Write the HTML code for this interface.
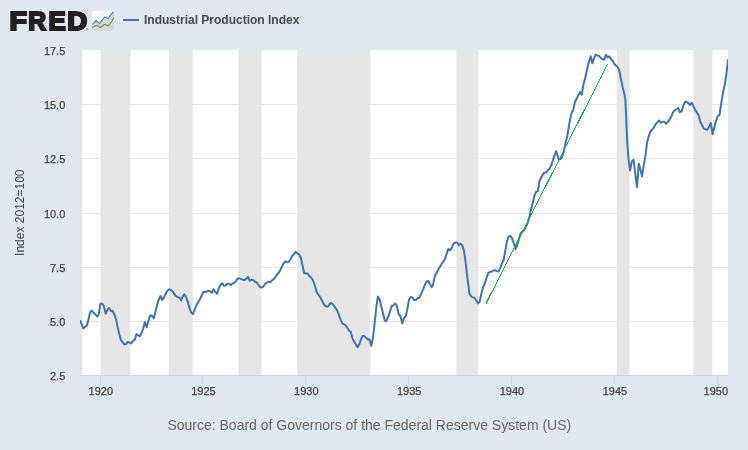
<!DOCTYPE html>
<html><head><meta charset="utf-8"><title>Industrial Production Index</title>
<style>
html,body{margin:0;padding:0;background:#e1e9f0;}
svg{display:block}
text{font-family:"Liberation Sans",Arial,Helvetica,sans-serif}
</style></head><body>
<svg width="748" height="450" viewBox="0 0 748 450">
<defs>
<linearGradient id="ig" x1="0" y1="0" x2="0.8" y2="1"><stop offset="0" stop-color="#ffffff"/><stop offset="0.25" stop-color="#f8f8f8"/><stop offset="0.7" stop-color="#e6e6e6"/><stop offset="1" stop-color="#dddddd"/></linearGradient>
<clipPath id="ic"><rect x="92.1" y="10.8" width="21.9" height="19.9" rx="2.2"/></clipPath>
<clipPath id="pc"><rect x="80" y="50" width="648" height="325"/></clipPath>
</defs>
<rect x="0" y="0" width="748" height="450" fill="#e1e9f0"/>
<rect x="80" y="50" width="648" height="325" fill="#ffffff"/>
<!-- recession bars -->
<g fill="#e6e6e6">
<rect x="80.0" y="50" width="2.4" height="325"/>
<rect x="100.4" y="50" width="30.1" height="325"/>
<rect x="168.6" y="50" width="24.1" height="325"/>
<rect x="238.4" y="50" width="23.1" height="325"/>
<rect x="297.2" y="50" width="73.0" height="325"/>
<rect x="456.3" y="50" width="22.2" height="325"/>
<rect x="616.6" y="50" width="12.9" height="325"/>
<rect x="693.3" y="50" width="19.1" height="325"/>
</g>
<!-- grid -->
<g stroke="#e6e6e6" stroke-width="1" shape-rendering="crispEdges">
<line x1="80" x2="728" y1="49.5" y2="49.5"/>
<line x1="80" x2="728" y1="104.5" y2="104.5"/>
<line x1="80" x2="728" y1="158.5" y2="158.5"/>
<line x1="80" x2="728" y1="213.5" y2="213.5"/>
<line x1="80" x2="728" y1="267.5" y2="267.5"/>
<line x1="80" x2="728" y1="321.5" y2="321.5"/>
</g>
<!-- axis -->
<g stroke="#ccd6eb" stroke-width="1" shape-rendering="crispEdges">
<line x1="80" x2="728" y1="375.5" y2="375.5"/>
<line x1="100.5" x2="100.5" y1="375" y2="385"/>
<line x1="202.5" x2="202.5" y1="375" y2="385"/>
<line x1="305.5" x2="305.5" y1="375" y2="385"/>
<line x1="408.5" x2="408.5" y1="375" y2="385"/>
<line x1="511.5" x2="511.5" y1="375" y2="385"/>
<line x1="614.5" x2="614.5" y1="375" y2="385"/>
<line x1="717.5" x2="717.5" y1="375" y2="385"/>
</g>
<g font-size="11" fill="#444444" stroke="#444444" stroke-width="0.25" text-anchor="end">
<text x="65.3" y="55">17.5</text>
<text x="65.3" y="109.2">15.0</text>
<text x="65.3" y="163.3">12.5</text>
<text x="65.3" y="217.7">10.0</text>
<text x="65.3" y="271.7">7.5</text>
<text x="65.3" y="325.8">5.0</text>
<text x="65.3" y="380">2.5</text>
</g>
<g font-size="11" fill="#444444" stroke="#444444" stroke-width="0.25" text-anchor="middle">
<text x="100.8" y="395">1920</text>
<text x="203.5" y="395">1925</text>
<text x="306.3" y="395">1930</text>
<text x="409.2" y="395">1935</text>
<text x="512" y="395">1940</text>
<text x="614.9" y="395">1945</text>
<text x="715.8" y="395">1950</text>
</g>
<text x="0" y="0" font-size="12" fill="#444444" text-anchor="middle" transform="translate(24.3,212.7) rotate(-90)">Index 2012=100</text>
<text x="369.3" y="430" font-size="14" fill="#666666" text-anchor="middle">Source: Board of Governors of the Federal Reserve System (US)</text>
<!-- header -->
<g aria-label="FRED" font-size="24.5" font-weight="bold" fill="#231f20" stroke="#231f20" stroke-width="2.0" stroke-linejoin="miter">
<text transform="translate(9.50,29.76) scale(1.166,1.045)">F</text>
<text transform="translate(28.19,29.75) scale(1.011,1.051)">R</text>
<text transform="translate(48.47,29.76) scale(1.057,1.045)">E</text>
<text transform="translate(67.32,29.76) scale(1.129,1.045)">D</text>
</g>
<text x="85.4" y="30.9" font-size="4" fill="#231f20">®</text>
<rect x="92.1" y="10.8" width="21.9" height="19.9" rx="2.2" fill="url(#ig)"/>
<g clip-path="url(#ic)">
<polygon points="92.1,24.6 96.1,20.4 99.5,23.7 104.5,17.2 107.9,18.4 114,11.1 114,30.7 92.1,30.7" fill="#d7d7d7"/>
<polyline points="92.1,24.6 96.1,20.4 99.5,23.7 104.5,17.2 107.9,18.4 113.4,11.8" fill="none" stroke="#4f84ad" stroke-width="1.1" stroke-linejoin="round"/>
<polyline points="92.1,27.6 96.4,25.3 100.4,27.5 104.8,24.2 108.2,25.8 111,22.7 113.7,17.6" fill="none" stroke="#6b9f4b" stroke-width="1.1" stroke-linejoin="round"/>
</g>
<line x1="123" x2="139" y1="20" y2="20" stroke="#4572a7" stroke-width="2"/>
<text x="144" y="24" font-size="12" font-weight="bold" fill="#4a4a4a">Industrial Production Index</text>
<!-- series -->
<g clip-path="url(#pc)">
<path id="series" fill="none" stroke="#4572a7" stroke-width="2" stroke-linejoin="round" stroke-linecap="round" d="M80.4,321.0 L83.3,328.5 L85.0,326.8 L86.8,325.8 L88.4,320.1 L90.0,312.7 L91.8,310.5 L93.4,312.5 L95.1,314.3 L97.4,316.5 L98.7,314.7 L100.3,303.8 L102.1,303.4 L103.8,306.0 L105.7,313.8 L107.4,309.8 L109.1,308.0 L110.9,311.1 L112.5,310.7 L114.4,314.7 L116.1,319.4 L117.7,327.4 L119.4,334.8 L121.0,340.1 L122.8,342.4 L124.5,344.5 L126.1,344.1 L127.7,341.9 L129.5,342.5 L131.2,343.5 L133.1,340.8 L134.8,339.7 L136.4,333.9 L138.2,335.5 L139.9,336.1 L141.5,332.8 L143.2,328.8 L144.8,322.1 L146.7,327.2 L148.5,320.7 L150.2,315.4 L151.9,315.7 L153.8,318.3 L155.5,311.4 L157.3,304.0 L158.9,299.4 L160.5,296.0 L162.2,299.8 L164.0,297.4 L165.7,293.7 L167.3,290.7 L169.2,289.3 L170.9,290.0 L172.7,291.3 L174.3,294.0 L176.0,296.0 L177.8,297.1 L179.4,297.5 L181.1,300.5 L182.8,296.4 L184.4,294.2 L186.0,297.1 L187.8,301.8 L189.5,307.8 L191.1,312.5 L192.9,314.1 L194.5,309.8 L196.2,305.5 L197.9,302.5 L199.7,299.8 L201.4,296.2 L203.2,292.2 L204.8,291.8 L206.5,291.8 L208.4,290.7 L210.1,291.1 L211.8,292.8 L213.4,289.1 L215.2,291.8 L217.1,293.8 L218.7,288.2 L220.4,285.1 L222.1,283.1 L223.9,285.7 L225.6,285.5 L227.2,283.7 L229.1,283.7 L230.8,285.1 L232.6,283.5 L234.3,282.8 L236.0,281.1 L237.8,278.4 L239.5,278.4 L241.3,279.1 L243.0,279.7 L244.6,280.1 L246.5,278.4 L248.1,276.8 L249.8,280.8 L251.6,279.5 L253.2,280.1 L254.9,281.7 L256.6,282.4 L258.2,284.7 L260.0,287.1 L261.7,287.4 L263.3,286.8 L265.2,283.7 L266.9,282.4 L268.7,281.7 L270.3,282.2 L272.0,280.4 L273.8,279.1 L275.4,277.1 L277.0,274.4 L278.7,272.8 L280.4,269.7 L282.1,266.4 L283.8,263.0 L285.5,261.3 L287.1,262.1 L288.9,261.7 L290.6,259.0 L292.3,255.7 L294.1,254.1 L295.7,251.7 L297.4,253.3 L299.2,254.6 L300.8,257.7 L302.5,265.1 L304.2,273.3 L305.9,273.3 L307.6,273.7 L309.3,276.0 L311.1,277.5 L312.8,280.0 L314.5,284.4 L316.3,291.1 L318.0,294.2 L319.8,296.5 L321.4,299.4 L323.1,302.7 L324.9,305.8 L326.6,306.7 L328.3,306.3 L330.1,303.4 L331.8,303.1 L333.4,305.0 L335.2,307.6 L336.9,310.1 L338.6,314.1 L340.4,319.1 L342.1,323.2 L343.9,324.5 L345.5,325.0 L347.2,327.8 L348.9,330.4 L350.8,332.1 L352.4,338.1 L354.1,341.5 L355.9,344.5 L357.6,347.2 L359.4,344.1 L361.0,339.2 L362.7,336.1 L364.4,336.1 L366.2,337.9 L367.9,339.5 L369.5,339.2 L371.3,345.9 L373.0,337.5 L374.6,323.4 L376.3,307.4 L377.9,296.4 L379.7,300.0 L381.4,307.1 L383.2,314.1 L384.9,321.0 L386.6,320.7 L388.2,316.7 L390.0,311.4 L391.7,306.0 L393.4,305.4 L395.2,303.4 L396.9,306.0 L398.7,314.1 L400.4,316.1 L402.3,323.5 L404.0,318.1 L405.8,316.1 L407.4,308.8 L409.1,299.4 L410.9,296.7 L412.5,297.8 L414.2,300.1 L415.9,300.1 L417.7,298.1 L419.3,297.8 L421.0,294.1 L422.8,290.1 L424.5,285.8 L426.2,282.3 L428.0,280.7 L429.7,283.4 L431.6,287.1 L433.0,285.0 L434.8,276.0 L436.5,272.7 L438.2,269.8 L439.9,266.7 L441.7,264.0 L443.4,261.4 L445.1,258.4 L446.7,253.7 L448.3,249.1 L450.1,250.1 L451.8,247.7 L453.6,243.4 L455.3,242.6 L457.0,242.4 L458.8,245.1 L460.4,243.7 L462.1,245.1 L463.9,250.4 L465.5,261.1 L467.2,276.5 L469.5,293.8 L471.3,296.5 L472.9,297.4 L474.5,297.8 L476.2,300.5 L478.0,303.4 L479.6,301.8 L481.3,294.1 L483.0,287.4 L484.8,283.4 L486.5,278.0 L488.4,272.9 L490.1,271.8 L491.8,271.8 L493.5,270.5 L495.1,270.1 L496.9,271.1 L498.6,271.5 L500.2,267.8 L502.0,263.1 L503.7,260.0 L505.3,250.4 L507.0,241.0 L508.6,236.4 L510.4,236.0 L512.1,238.4 L513.9,243.7 L515.6,249.1 L517.3,245.1 L519.1,238.4 L520.7,233.2 L522.5,231.5 L524.2,230.1 L525.9,226.8 L527.7,222.8 L529.3,217.4 L531.0,209.4 L532.8,202.7 L534.5,195.4 L536.1,191.8 L537.8,191.4 L539.4,181.3 L541.1,177.8 L542.7,174.7 L544.5,172.5 L546.2,172.5 L547.8,170.2 L549.5,168.9 L551.3,165.1 L553.0,159.8 L554.6,155.1 L556.2,151.1 L558.8,159.5 L560.5,159.1 L562.2,157.1 L563.9,151.1 L565.6,142.4 L567.2,136.4 L568.9,126.3 L569.7,121.5 L571.4,113.4 L573.2,110.1 L574.9,102.1 L576.6,98.7 L578.4,95.1 L580.1,92.1 L581.8,94.7 L583.4,84.7 L585.2,78.0 L586.8,70.7 L588.6,63.0 L590.7,56.4 L592.4,63.3 L594.0,58.4 L595.7,54.5 L597.2,55.4 L598.8,55.7 L600.5,57.7 L602.2,59.0 L604.1,59.7 L605.9,54.8 L607.6,57.4 L609.3,56.4 L611.1,59.0 L612.8,61.0 L614.4,64.1 L616.1,65.7 L617.8,67.1 L619.5,71.7 L621.1,79.8 L622.8,87.8 L624.6,95.1 L625.4,99.6 L627.1,140.0 L628.6,159.8 L630.1,170.5 L631.8,161.4 L633.6,159.8 L635.3,174.1 L637.0,187.1 L638.8,163.8 L640.5,170.1 L642.1,176.4 L643.9,164.1 L645.5,155.4 L647.1,142.1 L648.8,136.1 L650.5,131.4 L652.3,129.4 L654.0,127.4 L655.7,124.1 L657.5,122.1 L659.2,120.5 L661.0,122.8 L662.7,121.8 L664.4,121.8 L666.2,123.7 L667.9,121.8 L669.7,119.4 L671.4,116.1 L673.1,112.1 L674.9,110.3 L676.5,109.0 L678.2,108.0 L679.8,112.1 L681.6,111.4 L683.3,106.0 L684.9,102.0 L686.6,101.8 L688.4,103.1 L690.1,105.0 L691.8,102.7 L693.6,106.7 L695.3,110.1 L697.1,112.7 L698.7,115.4 L700.3,122.1 L702.0,125.0 L703.8,128.6 L705.5,129.2 L707.2,129.8 L709.1,126.8 L710.9,122.9 L712.5,134.2 L714.3,127.4 L715.9,121.5 L717.7,116.2 L719.5,115.0 L721.3,103.0 L723.0,93.0 L724.8,84.5 L726.4,74.5 L728.0,60.0"/>
<line x1="486.0" y1="303.5" x2="607.7" y2="64" stroke="#10b040" stroke-width="1" shape-rendering="crispEdges"/>
</g>
</svg>
</body></html>
